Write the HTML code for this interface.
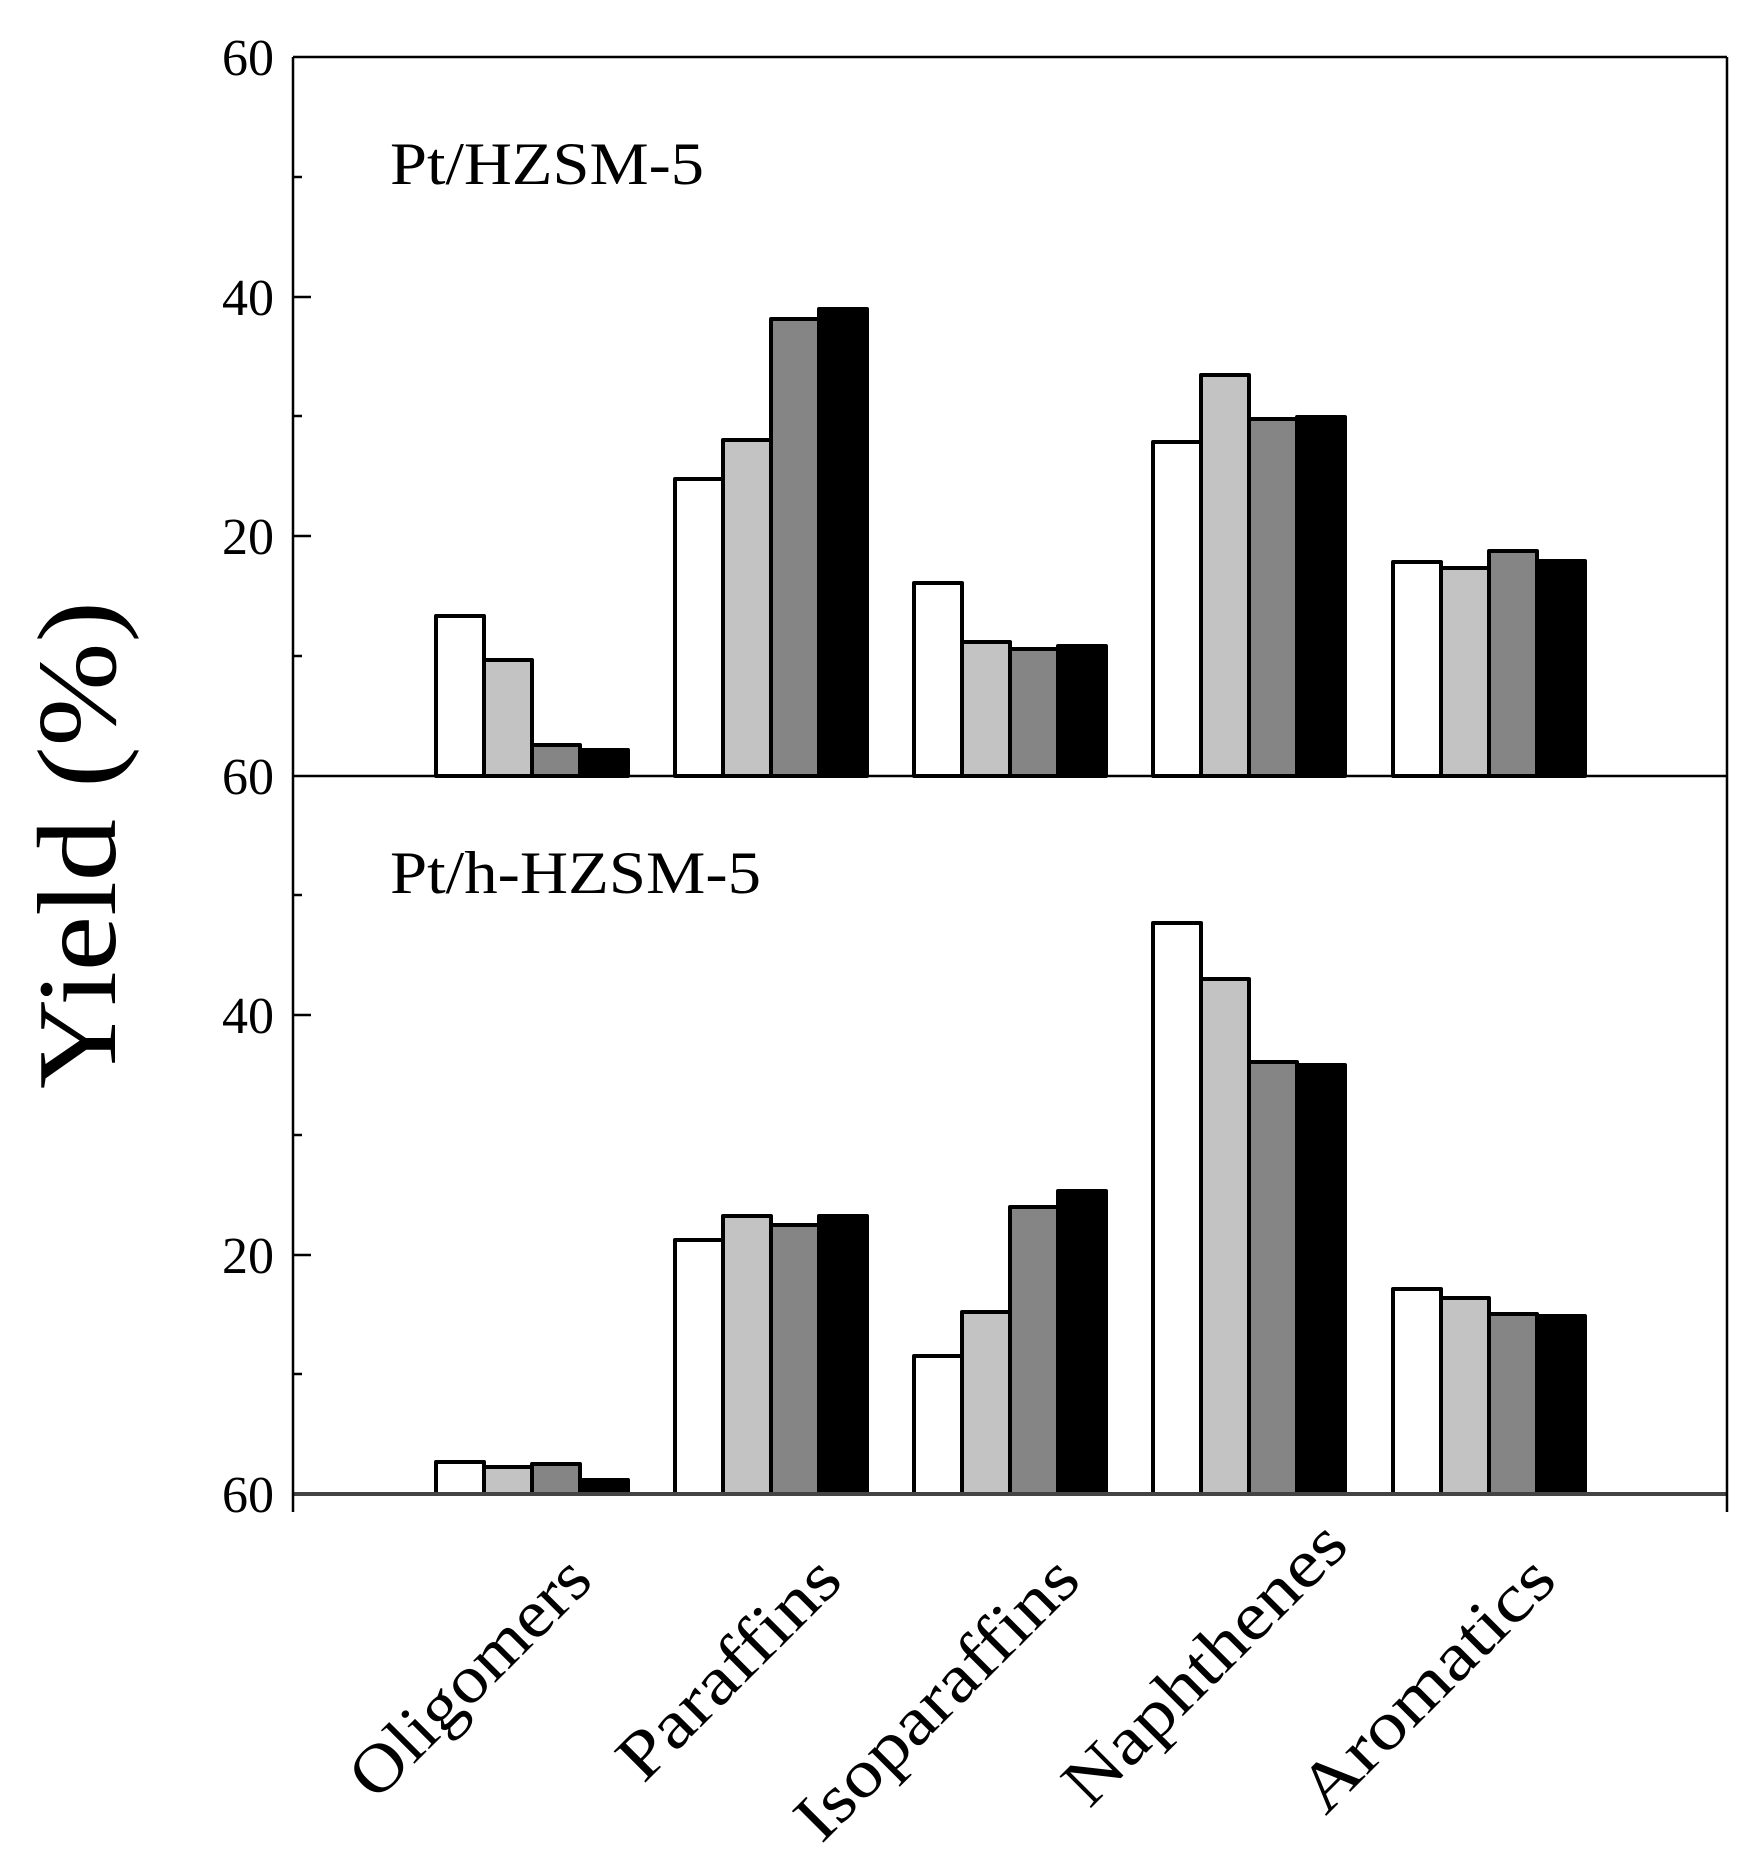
<!DOCTYPE html>
<html><head><style>
html,body{margin:0;padding:0;background:#fff;}
svg{display:block;}
text{font-family:"Liberation Serif",serif;fill:#000;}
</style></head><body>
<svg width="1750" height="1851" viewBox="0 0 1750 1851" xmlns="http://www.w3.org/2000/svg">
<rect width="1750" height="1851" fill="#fff"/>
<g stroke="#000" stroke-width="4" stroke-linejoin="round">
<rect x="436" y="616" width="48" height="160" fill="#fff"/>
<rect x="484" y="660" width="48" height="116" fill="#c3c3c3"/>
<rect x="532" y="745" width="48" height="31" fill="#858585"/>
<rect x="580" y="750" width="48" height="26" fill="#000"/>
<rect x="675" y="479" width="48" height="297" fill="#fff"/>
<rect x="723" y="440" width="48" height="336" fill="#c3c3c3"/>
<rect x="771" y="319" width="48" height="457" fill="#858585"/>
<rect x="819" y="309" width="48" height="467" fill="#000"/>
<rect x="914" y="583" width="48" height="193" fill="#fff"/>
<rect x="962" y="642" width="48" height="134" fill="#c3c3c3"/>
<rect x="1010" y="649" width="48" height="127" fill="#858585"/>
<rect x="1058" y="646" width="48" height="130" fill="#000"/>
<rect x="1153" y="442" width="48" height="334" fill="#fff"/>
<rect x="1201" y="375" width="48" height="401" fill="#c3c3c3"/>
<rect x="1249" y="419" width="48" height="357" fill="#858585"/>
<rect x="1297" y="417" width="48" height="359" fill="#000"/>
<rect x="1393" y="562" width="48" height="214" fill="#fff"/>
<rect x="1441" y="568" width="48" height="208" fill="#c3c3c3"/>
<rect x="1489" y="551" width="48" height="225" fill="#858585"/>
<rect x="1537" y="561" width="48" height="215" fill="#000"/>
<rect x="436" y="1462" width="48" height="32" fill="#fff"/>
<rect x="484" y="1467" width="48" height="27" fill="#c3c3c3"/>
<rect x="532" y="1464" width="48" height="30" fill="#858585"/>
<rect x="580" y="1480" width="48" height="14" fill="#000"/>
<rect x="675" y="1240" width="48" height="254" fill="#fff"/>
<rect x="723" y="1216" width="48" height="278" fill="#c3c3c3"/>
<rect x="771" y="1225" width="48" height="269" fill="#858585"/>
<rect x="819" y="1216" width="48" height="278" fill="#000"/>
<rect x="914" y="1356" width="48" height="138" fill="#fff"/>
<rect x="962" y="1312" width="48" height="182" fill="#c3c3c3"/>
<rect x="1010" y="1207" width="48" height="287" fill="#858585"/>
<rect x="1058" y="1191" width="48" height="303" fill="#000"/>
<rect x="1153" y="923" width="48" height="571" fill="#fff"/>
<rect x="1201" y="979" width="48" height="515" fill="#c3c3c3"/>
<rect x="1249" y="1062" width="48" height="432" fill="#858585"/>
<rect x="1297" y="1065" width="48" height="429" fill="#000"/>
<rect x="1393" y="1289" width="48" height="205" fill="#fff"/>
<rect x="1441" y="1298" width="48" height="196" fill="#c3c3c3"/>
<rect x="1489" y="1314" width="48" height="180" fill="#858585"/>
<rect x="1537" y="1316" width="48" height="178" fill="#000"/>
</g>
<g stroke="#000" stroke-width="2.5" fill="none">
<line x1="293" y1="57" x2="1727" y2="57"/>
<line x1="293" y1="776" x2="1727" y2="776"/>
<line x1="293" y1="1494" x2="1727" y2="1494" stroke="#444" stroke-width="4"/>
<line x1="293" y1="57" x2="293" y2="1512"/>
<line x1="1727" y1="57" x2="1727" y2="1512"/>
<line x1="293" y1="297" x2="311" y2="297"/>
<line x1="293" y1="536" x2="311" y2="536"/>
<line x1="293" y1="177" x2="302" y2="177"/>
<line x1="293" y1="416" x2="302" y2="416"/>
<line x1="293" y1="656" x2="302" y2="656"/>
<line x1="293" y1="1015" x2="311" y2="1015"/>
<line x1="293" y1="1255" x2="311" y2="1255"/>
<line x1="293" y1="895" x2="302" y2="895"/>
<line x1="293" y1="1135" x2="302" y2="1135"/>
<line x1="293" y1="1374" x2="302" y2="1374"/>
</g>
<g font-size="52" text-anchor="end">
<text x="274" y="75">60</text>
<text x="274" y="315">40</text>
<text x="274" y="554">20</text>
<text x="274" y="794">60</text>
<text x="274" y="1033">40</text>
<text x="274" y="1273">20</text>
<text x="274" y="1512">60</text>
</g>
<text x="390" y="184" font-size="60" textLength="314" lengthAdjust="spacingAndGlyphs">Pt/HZSM-5</text>
<text x="390" y="893" font-size="60" textLength="371" lengthAdjust="spacingAndGlyphs">Pt/h-HZSM-5</text>
<text transform="translate(115,845) rotate(-90)" font-size="112" text-anchor="middle" textLength="488" lengthAdjust="spacingAndGlyphs">Yield (%)</text>
<g font-size="68" text-anchor="end">
<text transform="translate(595,1583) rotate(-45)" textLength="310" lengthAdjust="spacingAndGlyphs">Oligomers</text>
<text transform="translate(845,1583) rotate(-45)" textLength="285" lengthAdjust="spacingAndGlyphs">Paraffins</text>
<text transform="translate(1083,1583) rotate(-45)" textLength="370" lengthAdjust="spacingAndGlyphs">Isoparaffins</text>
<text transform="translate(1351,1548) rotate(-45)" textLength="370" lengthAdjust="spacingAndGlyphs">Naphthenes</text>
<text transform="translate(1559,1583) rotate(-45)" textLength="330" lengthAdjust="spacingAndGlyphs">Aromatics</text>
</g>
</svg>
</body></html>
